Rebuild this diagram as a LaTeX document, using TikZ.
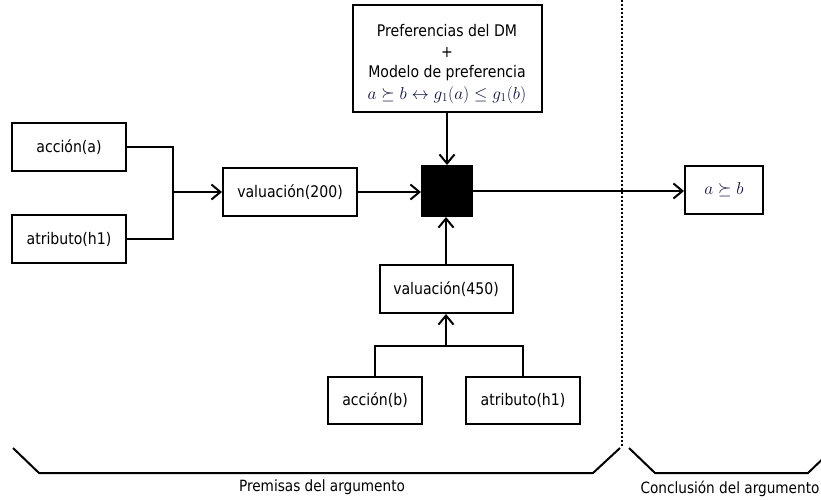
\documentclass[tikz,border=0pt]{standalone}
\usepackage{fontspec}
\setmainfont{DejaVu Sans}[FakeStretch=0.88]
\usepackage{amssymb}
\usetikzlibrary{arrows.meta}
\definecolor{mathnavy}{RGB}{14,20,60}
\begin{document}
\begin{tikzpicture}[x=1pt,y=-1pt,
  box/.style={draw, line width=2pt, minimum width=#1, minimum height=48pt, inner sep=0pt, font=\fontsize{16}{20}\selectfont},
  conn/.style={line width=2pt},
  arr/.style={conn, -{Straight Barb[length=9pt,width=15pt,line width=2pt]}},
  lbl/.style={font=\fontsize{15.5}{18}\selectfont},
  dotline/.style={line width=2.2pt, dash pattern=on 2pt off 2pt},
]
\useasboundingbox (0,0) rectangle (821,499);
\clip (0,0) rectangle (821,499);

\node[box=114pt] (aa) at (69,147) {acción(a)};
\node[box=114pt] (ha) at (69,239) {atributo(h1)};
\node[box=134pt] (v200) at (290,192) {valuación(200)};
\node[draw, fill=black, line width=2pt, minimum size=50pt, inner sep=0pt] (sq) at (447,191) {};
\node[box=189pt, minimum height=107pt] (pref) at (447,58) {};
\node[align=center, inner sep=0pt, font=\fontsize{16}{20.5}\selectfont] (preftext) at (447,64)
  {Preferencias del DM\\+\\Modelo de preferencia\\[1pt]{\fontsize{18}{20}\selectfont\color{mathnavy}$a\succeq b\leftrightarrow g_{1}(a)\leq g_{1}(b)$}};
\node[box=133pt] (v450) at (446,289) {valuación(450)};
\node[box=94pt, minimum height=47pt] (ab) at (375,400) {acción(b)};
\node[box=114pt, minimum height=47pt] (hb) at (523,400) {atributo(h1)};
\node[box=78pt] (res) at (724,190) {\fontsize{17}{20}\selectfont\color{mathnavy}$a\succeq b$};

\coordinate (j1) at (173,192);
\coordinate (j2) at (446,346);
\draw[conn] (aa.east) -| (j1);
\draw[conn] (ha.east) -| (j1);
\draw[arr] (j1) -- (v200.west);
\draw[arr] (v200.east) -- (v200.east -| sq.west);
\draw[conn] (ab.north) |- (j2);
\draw[conn] (hb.north) |- (j2);
\draw[arr] (j2) -- (v450.south);
\draw[arr] (v450.north) -- (v450.north |- sq.south);
\draw[arr] (pref.south) -- (sq.north);
\draw[arr] (sq.east) -- (sq.east -| res.west);

\coordinate (dtop) at (622,0);
\coordinate (dbot) at (622,447);
\draw[dotline] (dtop) -- (dbot);

\draw[conn, line join=miter] (13,448) -- (39,473) -- (593,473) -- (620,448);
\draw[conn, line join=miter] (629,448) -- (655,473) -- (808,473) -- (834,448);

\node[lbl] (prem) at (322,487) {Premisas del argumento};
\node[lbl, anchor=west] (conc) at (637,489) {Conclusión del argumento};
\end{tikzpicture}
\end{document}
